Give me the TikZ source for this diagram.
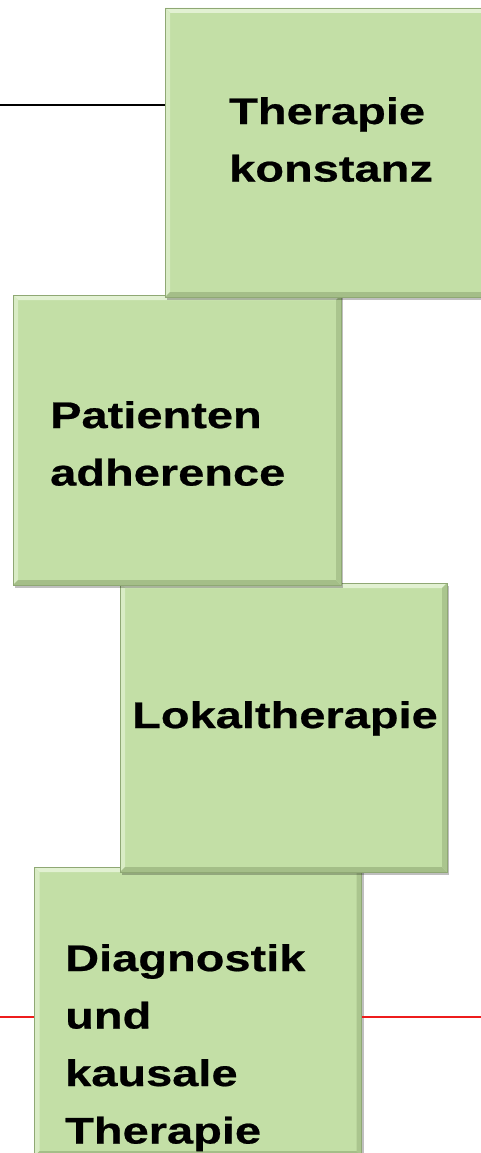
\documentclass[tikz,border=0pt]{standalone}
\usepackage{fontspec}
\newfontfamily\boxfont[FakeStretch=1.27,FakeBold=0.6]{Liberation Sans}
\usetikzlibrary{positioning,shadows}
\definecolor{boxgreen}{HTML}{C3DFA6}
\definecolor{boxedge}{HTML}{8FA874}
\definecolor{bevellight}{HTML}{E2F1D2}
\definecolor{beveldark}{HTML}{A4BE88}
\definecolor{linered}{HTML}{EE1C1C}
\tikzset{
  stackbox/.style={rectangle, draw=boxedge, fill=boxgreen, line width=0.8pt, inner sep=0pt,
    minimum width=327pt, minimum height=289pt,
    drop shadow={shadow xshift=2pt, shadow yshift=-3pt, fill=black, opacity=0.25},
    path picture={
      \fill[bevellight] (path picture bounding box.north west) -- (path picture bounding box.north east)
        -- ([xshift=-5pt,yshift=-5pt]path picture bounding box.north east)
        -- ([xshift=5pt,yshift=-5pt]path picture bounding box.north west) -- cycle;
      \fill[bevellight!70!boxgreen] (path picture bounding box.north west) -- (path picture bounding box.south west)
        -- ([xshift=5pt,yshift=5pt]path picture bounding box.south west)
        -- ([xshift=5pt,yshift=-5pt]path picture bounding box.north west) -- cycle;
      \fill[beveldark] (path picture bounding box.south west) -- (path picture bounding box.south east)
        -- ([xshift=-5pt,yshift=5pt]path picture bounding box.south east)
        -- ([xshift=5pt,yshift=5pt]path picture bounding box.south west) -- cycle;
      \fill[beveldark!80!boxgreen] (path picture bounding box.north east) -- (path picture bounding box.south east)
        -- ([xshift=-5pt,yshift=5pt]path picture bounding box.south east)
        -- ([xshift=-5pt,yshift=-5pt]path picture bounding box.north east) -- cycle;
    }},
  boxtext/.style={inner sep=0pt, anchor=base west, align=left,
    font=\boxfont\bfseries\fontsize{37}{57.5}\selectfont}
}

\begin{document}
\begin{tikzpicture}[x=1pt, y=-1pt]

\useasboundingbox (0,0) rectangle (481,1153);
\clip (0,0) rectangle (481,1153);

% Lines behind the boxes
\coordinate (L0) at (0,105);
\coordinate (R0) at (0,1017);
\coordinate (R1) at (481,1017);

% Box 4 (bottom)
\node[stackbox] (B4) at (198,1011.5) {};
% Box 3
\node[stackbox] (B3) at (283.5,727.5) {};
% Box 2
\node[stackbox, minimum width=328pt, minimum height=290pt] (B2) at (177,440) {};
% Box 1 (top)
\node[stackbox, minimum width=330pt] (B1) at (330,152.5) {};

\draw[draw=black, line width=1.1pt] (L0) -- (L0 -| B1.west);
\draw[draw=linered, line width=1.6pt] (R0) -- (R0 -| B4.west);
\draw[draw=linered, line width=1.6pt] (R1 -| B4.east) -- (R1);

% Texts
\node[boxtext, anchor=north west] (T1) at (229,97) {Therapie\\konstanz};
\node[boxtext, anchor=north west] (T2) at (50,401) {Patienten\\adherence};
\node[boxtext] (T3) at (132,728) {Lokaltherapie};
\node[boxtext, anchor=north west] (T4) at (65,944) {Diagnostik\\und\\kausale\\Therapie};

\end{tikzpicture}
\end{document}
